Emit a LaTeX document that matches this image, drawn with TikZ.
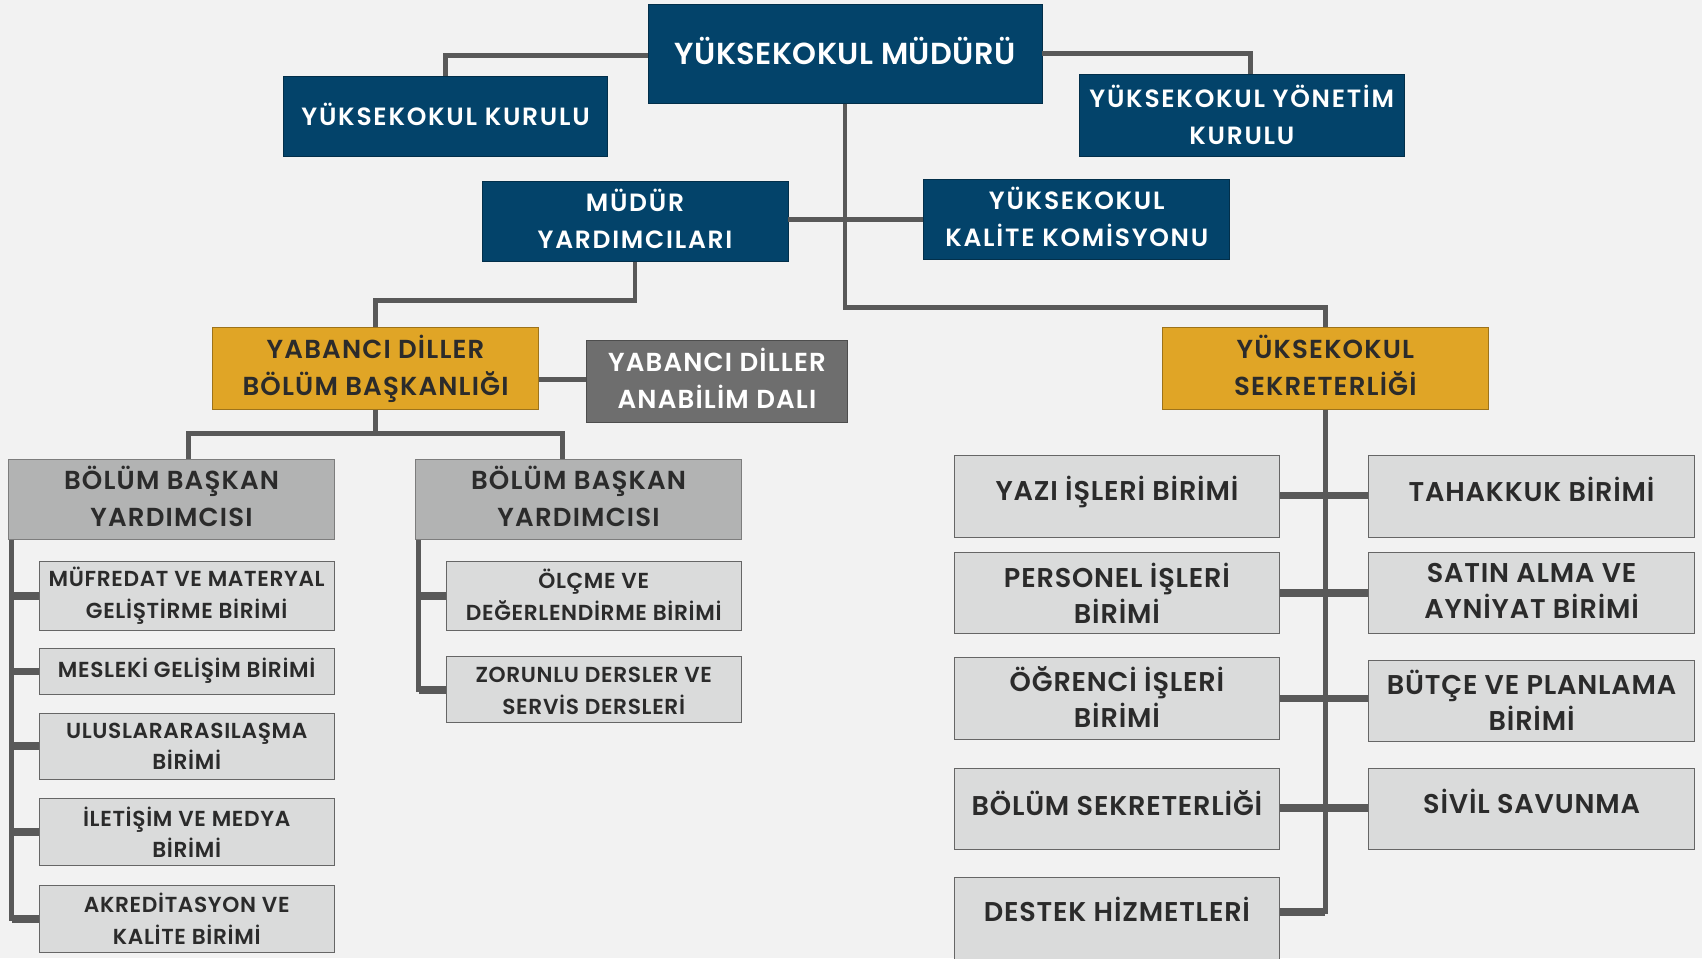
\documentclass[tikz,border=0pt]{standalone}
\usepackage{fontspec}
\newfontfamily\popTop{Poppins SemiBold}[LetterSpace=1.5]
\newfontfamily\popBlue{Poppins SemiBold}[LetterSpace=7]
\newfontfamily\popGold{Poppins SemiBold}[LetterSpace=4.5]
\newfontfamily\popSmall{Poppins SemiBold}[LetterSpace=3]
\newfontfamily\popUnit{Poppins SemiBold}[LetterSpace=3]
\definecolor{bg}{HTML}{F2F2F2}
\definecolor{navy}{HTML}{03436A}
\definecolor{gold}{HTML}{E0A526}
\definecolor{dgray}{HTML}{6E6E6E}
\definecolor{mgray}{HTML}{B2B3B3}
\definecolor{lgray}{HTML}{DADBDB}
\definecolor{linec}{HTML}{595959}
\definecolor{txt}{HTML}{2B2B2B}
\tikzset{
  box/.style={rectangle, inner sep=0pt, align=center, draw=#1!70!black, line width=0.8pt},
  bluebox/.style={box=navy, fill=navy, text=white, font=\popBlue\fontsize{23}{34}\selectfont},
  goldbox/.style={box=gold, fill=gold, text=txt, font=\popGold\fontsize{24}{34}\selectfont},
  dgraybox/.style={box=dgray, fill=dgray, text=white, font=\popGold\fontsize{24}{34}\selectfont},
  mgraybox/.style={box=mgray, fill=mgray, text=txt, font=\popGold\fontsize{24}{34}\selectfont},
  smallbox/.style={box=lgray, fill=lgray, text=txt, font=\popSmall\fontsize{20}{29}\selectfont, minimum width=272, draw=gray!80!black},
  unitbox/.style={box=lgray, fill=lgray, text=txt, font=\popUnit\fontsize{25}{33}\selectfont, minimum width=300, minimum height=75, draw=gray!80!black},
  conn/.style={draw=linec, line width=4.5pt},
  branch/.style={draw=linec, line width=7pt},
}
\newcommand\up[2]{\raisebox{#1}[\height][\depth]{#2}}
\begin{document}
\begin{tikzpicture}[x=1pt,y=-1pt]
\path[use as bounding box] (0,0) rectangle (1568,883);
\clip (0,0) rectangle (1568,883);
\fill[bg] (0,0) rectangle (1568,883);

\coordinate (j1) at (778.5,283);
\coordinate (j2) at (585,277);
\coordinate (j3) at (346,399);

% nodes
\node[bluebox, minimum width=363, minimum height=91, font=\popTop\fontsize{28}{34}\selectfont] (top) at (778.5,49.5) {\up{3pt}{YÜKSEKOKUL MÜDÜRÜ}};
\node[bluebox, minimum width=299, minimum height=74] (kur) at (410.5,107) {\up{2pt}{YÜKSEKOKUL KURULU}};
\node[bluebox, minimum width=300, minimum height=75] (yon) at (1144,106.5) {\up{1pt}{YÜKSEKOKUL YÖNETİM}\\\up{1pt}{KURULU}};
\node[bluebox, minimum width=282, minimum height=74] (myard) at (585,204) {\up{2pt}{MÜDÜR}\\\up{2pt}{YARDIMCILARI}};
\node[bluebox, minimum width=282, minimum height=74] (kal) at (992,202) {\up{2pt}{YÜKSEKOKUL}\\\up{2pt}{KALİTE KOMİSYONU}};
\node[goldbox, minimum width=300, minimum height=75] (ybb) at (346,339.5) {YABANCI DİLLER\\BÖLÜM BAŞKANLIĞI};
\node[dgraybox, minimum width=241, minimum height=75] (ana) at (660.5,351.5) {\up{3pt}{YABANCI DİLLER}\\\up{3pt}{ANABİLİM DALI}};
\node[goldbox, minimum width=300, minimum height=75] (sek) at (1221,339.5) {\up{3pt}{YÜKSEKOKUL}\\\up{3pt}{SEKRETERLİĞİ}};
\node[mgraybox, minimum width=300, minimum height=74] (bby1) at (158,460) {\up{3pt}{BÖLÜM BAŞKAN}\\\up{3pt}{YARDIMCISI}};
\node[mgraybox, minimum width=300, minimum height=74] (bby2) at (533,460) {\up{3pt}{BÖLÜM BAŞKAN}\\\up{3pt}{YARDIMCISI}};

\node[smallbox, minimum height=64] (m1) at (172,549) {MÜFREDAT VE MATERYAL\\GELİŞTİRME BİRİMİ};
\node[smallbox, minimum height=43] (m2) at (172,618.5) {\up{1pt}{MESLEKİ GELİŞİM BİRİMİ}};
\node[smallbox, minimum height=61] (m3) at (172,687.5) {ULUSLARARASILAŞMA\\BİRİMİ};
\node[smallbox, minimum height=61] (m4) at (172,766.5) {İLETİŞİM VE MEDYA\\BİRİMİ};
\node[smallbox, minimum height=61] (m5) at (172,846.5) {AKREDİTASYON VE\\KALİTE BİRİMİ};
\node[smallbox, minimum height=64] (o1) at (547,549) {\up{1pt}{ÖLÇME VE}\\\up{1pt}{DEĞERLENDİRME BİRİMİ}};
\node[smallbox, minimum height=61] (o2) at (547,635.5) {\up{-1pt}{ZORUNLU DERSLER VE}\\\up{-1pt}{SERVİS DERSLERİ}};

\node[unitbox] (r1) at (1029,457.5) {\up{4pt}{YAZI İŞLERİ BİRİMİ}};
\node[unitbox] (r2) at (1029,546.5) {PERSONEL İŞLERİ\\BİRİMİ};
\node[unitbox] (r3) at (1029,643.5) {\up{1.5pt}{ÖĞRENCİ İŞLERİ}\\\up{1.5pt}{BİRİMİ}};
\node[unitbox] (r4) at (1029,745.5) {\up{6pt}{BÖLÜM SEKRETERLİĞİ}};
\node[unitbox, minimum height=84] (r5) at (1029,850) {\up{12pt}{DESTEK HİZMETLERİ}};
\node[unitbox] (s1) at (1411,457.5) {\up{7pt}{TAHAKKUK BİRİMİ}};
\node[unitbox] (s2) at (1411,546.5) {\up{2.5pt}{SATIN ALMA VE}\\\up{2.5pt}{AYNİYAT BİRİMİ}};
\node[unitbox] (s3) at (1411,645.5) {\up{0.5pt}{BÜTÇE VE PLANLAMA}\\\up{0.5pt}{BİRİMİ}};
\node[unitbox] (s4) at (1411,745.5) {\up{7pt}{SİVİL SAVUNMA}};

% connectors
\draw[conn] ([yshift=-2pt]top.west) -| (kur.north);
\draw[conn] (top.east) -| ([xshift=8pt]yon.north);
\draw[conn] (top.south) -- (j1) -| (sek.north);
\draw[conn] (myard.east |- kal.west) -- (kal.west);
\draw[conn] (myard.south) -- (j2) -| (ybb.north);
\draw[conn] (ybb.east |- 0,350) -- (ana.west |- 0,350);
\draw[conn] (ybb.south) -- (j3);
\draw[conn] ([xshift=16pt]bby1.north) |- (j3) -| ([xshift=-15pt]bby2.north);

\coordinate (lv) at ([xshift=3pt]bby1.south west);
\draw[conn] (lv) |- (m5.west);
\foreach \n in {m1,m2,m3,m4,m5} \draw[branch] (\n.west -| lv) -- (\n.west);
\coordinate (mv) at ([xshift=3pt]bby2.south west);
\draw[conn] (mv) |- (o2.west);
\foreach \n in {o1,o2} \draw[branch] (\n.west -| mv) -- (\n.west);

\draw[conn] (sek.south) |- ([yshift=10pt]r5.east);
\draw[branch] ([yshift=1pt]r1.east) -- ([yshift=1pt]s1.west);
\draw[branch] (r2.east) -- (s2.west);
\draw[branch] (r3.east) -- (r3.east -| s3.west);
\draw[branch] ([yshift=1pt]r4.east) -- ([yshift=1pt]s4.west);
\draw[branch] ([yshift=10pt]r5.east) -- ++(41,0);
\end{tikzpicture}
\end{document}
